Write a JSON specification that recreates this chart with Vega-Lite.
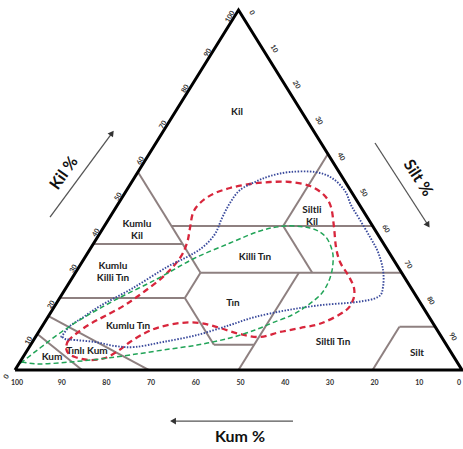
{
  "$schema": "https://vega.github.io/schema/vega-lite/v6.json",
  "width": 463,
  "height": 449,
  "autosize": {"type": "none"},
  "padding": 0,
  "background": "white",
  "config": {"view": {"stroke": null}, "text": {"font": "Lato"}},
  "datasets": {
    "seg": [
      {"x": 27.5, "c": 55, "x2": 41.5, "c2": 27},
      {"x": 17.5, "c": 35, "x2": 37.5, "c2": 35},
      {"x": 35, "c": 40, "x2": 80, "c2": 40},
      {"x": 60, "c": 40, "x2": 70, "c2": 60},
      {"x": 60, "c": 40, "x2": 66.5, "c2": 27},
      {"x": 41.5, "c": 27, "x2": 86.5, "c2": 27},
      {"x": 10, "c": 20, "x2": 38, "c2": 20},
      {"x": 38, "c": 20, "x2": 41.5, "c2": 27},
      {"x": 38, "c": 20, "x2": 44.5, "c2": 7},
      {"x": 44.5, "c": 7, "x2": 53.5, "c2": 7},
      {"x": 63.5, "c": 27, "x2": 50, "c2": 0},
      {"x": 80, "c": 0, "x2": 86, "c2": 12},
      {"x": 86, "c": 12, "x2": 94, "c2": 12},
      {"x": 7.5, "c": 15, "x2": 30, "c2": 0},
      {"x": 5, "c": 10, "x2": 15, "c2": 0}
    ],
    "frame": [
      {"i": 1, "x": 0, "c": 0},
      {"i": 2, "x": 100, "c": 0},
      {"i": 3, "x": 50, "c": 100},
      {"i": 4, "x": 0, "c": 0}
    ],
    "curves": [
      {"s": "A", "i": 1, "x": 11.41, "c": 6.11},
      {"s": "A", "i": 2, "x": 11.86, "c": 8.06},
      {"s": "A", "i": 3, "x": 13.87, "c": 10.28},
      {"s": "A", "i": 4, "x": 16.78, "c": 12.78},
      {"s": "A", "i": 5, "x": 20.13, "c": 15.0},
      {"s": "A", "i": 6, "x": 24.61, "c": 18.06},
      {"s": "A", "i": 7, "x": 29.08, "c": 21.94},
      {"s": "A", "i": 8, "x": 33.56, "c": 26.39},
      {"s": "A", "i": 9, "x": 36.91, "c": 31.11},
      {"s": "A", "i": 10, "x": 38.48, "c": 35.28},
      {"s": "A", "i": 11, "x": 39.15, "c": 39.44},
      {"s": "A", "i": 12, "x": 39.82, "c": 43.61},
      {"s": "A", "i": 13, "x": 41.39, "c": 46.39},
      {"s": "A", "i": 14, "x": 44.3, "c": 48.89},
      {"s": "A", "i": 15, "x": 48.1, "c": 50.56},
      {"s": "A", "i": 16, "x": 52.57, "c": 51.67},
      {"s": "A", "i": 17, "x": 57.05, "c": 52.22},
      {"s": "A", "i": 18, "x": 61.52, "c": 52.22},
      {"s": "A", "i": 19, "x": 66.0, "c": 51.11},
      {"s": "A", "i": 20, "x": 69.13, "c": 48.61},
      {"s": "A", "i": 21, "x": 70.69, "c": 45.28},
      {"s": "A", "i": 22, "x": 71.36, "c": 39.72},
      {"s": "A", "i": 23, "x": 71.81, "c": 34.17},
      {"s": "A", "i": 24, "x": 72.71, "c": 30.0},
      {"s": "A", "i": 25, "x": 74.5, "c": 26.39},
      {"s": "A", "i": 26, "x": 75.84, "c": 22.78},
      {"s": "A", "i": 27, "x": 75.62, "c": 19.44},
      {"s": "A", "i": 28, "x": 73.83, "c": 16.39},
      {"s": "A", "i": 29, "x": 68.68, "c": 13.06},
      {"s": "A", "i": 30, "x": 63.76, "c": 11.67},
      {"s": "A", "i": 31, "x": 59.28, "c": 10.56},
      {"s": "A", "i": 32, "x": 54.81, "c": 9.17},
      {"s": "A", "i": 33, "x": 50.34, "c": 10.0},
      {"s": "A", "i": 34, "x": 45.86, "c": 11.67},
      {"s": "A", "i": 35, "x": 41.39, "c": 13.06},
      {"s": "A", "i": 36, "x": 36.91, "c": 13.06},
      {"s": "A", "i": 37, "x": 32.44, "c": 11.94},
      {"s": "A", "i": 38, "x": 29.08, "c": 10.28},
      {"s": "A", "i": 39, "x": 25.73, "c": 7.78},
      {"s": "A", "i": 40, "x": 23.04, "c": 5.28},
      {"s": "A", "i": 41, "x": 20.13, "c": 3.33},
      {"s": "A", "i": 42, "x": 16.78, "c": 2.78},
      {"s": "A", "i": 43, "x": 13.42, "c": 3.61},
      {"s": "A", "i": 44, "x": 11.86, "c": 4.72},
      {"s": "A", "i": 45, "x": 11.41, "c": 6.11},
      {"s": "B", "i": 1, "x": 10.51, "c": 9.44},
      {"s": "B", "i": 2, "x": 12.3, "c": 12.22},
      {"s": "B", "i": 3, "x": 14.99, "c": 14.44},
      {"s": "B", "i": 4, "x": 19.02, "c": 17.78},
      {"s": "B", "i": 5, "x": 26.4, "c": 22.78},
      {"s": "B", "i": 6, "x": 34.0, "c": 28.61},
      {"s": "B", "i": 7, "x": 38.48, "c": 31.39},
      {"s": "B", "i": 8, "x": 42.06, "c": 34.17},
      {"s": "B", "i": 9, "x": 44.74, "c": 37.78},
      {"s": "B", "i": 10, "x": 46.31, "c": 42.22},
      {"s": "B", "i": 11, "x": 48.1, "c": 46.39},
      {"s": "B", "i": 12, "x": 50.34, "c": 50.0},
      {"s": "B", "i": 13, "x": 53.69, "c": 52.22},
      {"s": "B", "i": 14, "x": 57.05, "c": 53.89},
      {"s": "B", "i": 15, "x": 61.52, "c": 55.0},
      {"s": "B", "i": 16, "x": 67.11, "c": 55.0},
      {"s": "B", "i": 17, "x": 70.92, "c": 53.33},
      {"s": "B", "i": 18, "x": 73.83, "c": 49.72},
      {"s": "B", "i": 19, "x": 75.17, "c": 45.83},
      {"s": "B", "i": 20, "x": 77.18, "c": 41.67},
      {"s": "B", "i": 21, "x": 79.42, "c": 36.94},
      {"s": "B", "i": 22, "x": 81.21, "c": 32.78},
      {"s": "B", "i": 23, "x": 82.33, "c": 27.78},
      {"s": "B", "i": 24, "x": 82.33, "c": 23.06},
      {"s": "B", "i": 25, "x": 81.21, "c": 20.28},
      {"s": "B", "i": 26, "x": 76.51, "c": 18.89},
      {"s": "B", "i": 27, "x": 68.68, "c": 18.06},
      {"s": "B", "i": 28, "x": 61.07, "c": 16.67},
      {"s": "B", "i": 29, "x": 53.69, "c": 14.72},
      {"s": "B", "i": 30, "x": 48.1, "c": 12.5},
      {"s": "B", "i": 31, "x": 40.72, "c": 9.72},
      {"s": "B", "i": 32, "x": 33.11, "c": 7.78},
      {"s": "B", "i": 33, "x": 26.85, "c": 6.39},
      {"s": "B", "i": 34, "x": 22.37, "c": 6.67},
      {"s": "B", "i": 35, "x": 17.9, "c": 7.78},
      {"s": "B", "i": 36, "x": 13.42, "c": 8.33},
      {"s": "B", "i": 37, "x": 11.19, "c": 8.61},
      {"s": "B", "i": 38, "x": 10.51, "c": 9.44},
      {"s": "C", "i": 1, "x": 1.57, "c": 2.22},
      {"s": "C", "i": 2, "x": 5.59, "c": 6.11},
      {"s": "C", "i": 3, "x": 10.07, "c": 10.28},
      {"s": "C", "i": 4, "x": 15.21, "c": 14.44},
      {"s": "C", "i": 5, "x": 22.82, "c": 19.72},
      {"s": "C", "i": 6, "x": 31.77, "c": 25.28},
      {"s": "C", "i": 7, "x": 39.82, "c": 30.83},
      {"s": "C", "i": 8, "x": 48.1, "c": 35.28},
      {"s": "C", "i": 9, "x": 54.81, "c": 38.61},
      {"s": "C", "i": 10, "x": 60.4, "c": 40.0},
      {"s": "C", "i": 11, "x": 65.99, "c": 39.44},
      {"s": "C", "i": 12, "x": 69.35, "c": 37.22},
      {"s": "C", "i": 13, "x": 70.92, "c": 33.33},
      {"s": "C", "i": 14, "x": 71.14, "c": 29.72},
      {"s": "C", "i": 15, "x": 70.47, "c": 25.56},
      {"s": "C", "i": 16, "x": 68.68, "c": 21.39},
      {"s": "C", "i": 17, "x": 65.55, "c": 18.06},
      {"s": "C", "i": 18, "x": 61.97, "c": 15.28},
      {"s": "C", "i": 19, "x": 57.49, "c": 13.06},
      {"s": "C", "i": 20, "x": 53.69, "c": 11.11},
      {"s": "C", "i": 21, "x": 48.1, "c": 8.89},
      {"s": "C", "i": 22, "x": 40.72, "c": 6.94},
      {"s": "C", "i": 23, "x": 33.11, "c": 5.56},
      {"s": "C", "i": 24, "x": 25.73, "c": 4.17},
      {"s": "C", "i": 25, "x": 19.02, "c": 3.06},
      {"s": "C", "i": 26, "x": 12.3, "c": 2.22},
      {"s": "C", "i": 27, "x": 5.59, "c": 1.67},
      {"s": "C", "i": 28, "x": 1.57, "c": 2.22}
    ],
    "regions": [
      {"t": "Kil", "x": 49.66, "c": 71.67},
      {"t": "Kumlu\nKil", "x": 27.29, "c": 40.56},
      {"t": "Kumlu\nKilli Tın", "x": 21.92, "c": 28.89},
      {"t": "Siltli\nKil", "x": 66.44, "c": 44.44},
      {"t": "Killi Tın", "x": 53.69, "c": 31.39},
      {"t": "Tın", "x": 48.77, "c": 18.61},
      {"t": "Kumlu Tın", "x": 25.28, "c": 12.22},
      {"t": "Siltli Tın", "x": 71.14, "c": 7.78},
      {"t": "Silt", "x": 89.93, "c": 4.72},
      {"t": "Tınlı Kum", "x": 16.11, "c": 5.28},
      {"t": "Kum", "x": 8.28, "c": 3.61}
    ],
    "leftTicks": [
      {"t": "0", "x": 0, "c": 0}, {"t": "10", "x": 5, "c": 10}, {"t": "20", "x": 10, "c": 20},
      {"t": "30", "x": 15, "c": 30}, {"t": "40", "x": 20, "c": 40}, {"t": "50", "x": 25, "c": 50},
      {"t": "60", "x": 30, "c": 60}, {"t": "70", "x": 35, "c": 70}, {"t": "80", "x": 40, "c": 80},
      {"t": "90", "x": 45, "c": 90}, {"t": "100", "x": 50, "c": 100}
    ],
    "rightTicks": [
      {"t": "0", "x": 50, "c": 100}, {"t": "10", "x": 55, "c": 90}, {"t": "20", "x": 60, "c": 80},
      {"t": "30", "x": 65, "c": 70}, {"t": "40", "x": 70, "c": 60}, {"t": "50", "x": 75, "c": 50},
      {"t": "60", "x": 80, "c": 40}, {"t": "70", "x": 85, "c": 30}, {"t": "80", "x": 90, "c": 20},
      {"t": "90", "x": 95, "c": 10}
    ],
    "bottomTicks": [
      {"t": "100", "x": 0, "c": 0}, {"t": "90", "x": 10, "c": 0}, {"t": "80", "x": 20, "c": 0},
      {"t": "70", "x": 30, "c": 0}, {"t": "60", "x": 40, "c": 0}, {"t": "50", "x": 50, "c": 0},
      {"t": "40", "x": 60, "c": 0}, {"t": "30", "x": 70, "c": 0}, {"t": "20", "x": 80, "c": 0},
      {"t": "10", "x": 90, "c": 0}, {"t": "0", "x": 100, "c": 0}
    ],
    "arrows": [
      {"a": "Kil", "x": 7.83, "c": 42.5, "x2": 21.7, "c2": 65.83},
      {"a": "Silt", "x": 80.54, "c": 63.06, "x2": 92.39, "c2": 40.28},
      {"a": "Kum", "x": 62.19, "c": -14.17, "x2": 35.35, "c2": -14.17}
    ]
  },
  "encoding": {
    "x": {"field": "x", "type": "quantitative", "scale": {"domain": [-3.356, 100.224], "nice": false, "zero": false}, "axis": null},
    "y": {"field": "c", "type": "quantitative", "scale": {"domain": [-21.94, 102.78], "nice": false, "zero": false}, "axis": null}
  },
  "layer": [
    {
      "data": {"name": "seg"},
      "mark": {"type": "rule", "color": "#8e8080", "strokeWidth": 2},
      "encoding": {"x2": {"field": "x2"}, "y2": {"field": "c2"}}
    },
    {
      "data": {"name": "curves"},
      "mark": {"type": "line", "interpolate": "cardinal-closed", "fill": null},
      "encoding": {
        "order": {"field": "i", "type": "quantitative"},
        "detail": {"field": "s", "type": "nominal"},
        "color": {"field": "s", "type": "nominal", "scale": {"domain": ["A", "B", "C"], "range": ["#d8263c", "#3a4a9c", "#22a458"]}, "legend": null},
        "strokeDash": {"field": "s", "type": "nominal", "scale": {"domain": ["A", "B", "C"], "range": [[6, 4], [1.5, 1.5], [5, 3]]}, "legend": null},
        "strokeWidth": {"field": "s", "type": "nominal", "scale": {"domain": ["A", "B", "C"], "range": [2.3, 1.5, 2]}, "legend": null}
      }
    },
    {
      "data": {"name": "frame"},
      "mark": {"type": "line", "color": "black", "strokeWidth": 3, "strokeJoin": "miter"},
      "encoding": {"order": {"field": "i", "type": "quantitative"}}
    },
    {
      "data": {"name": "regions"},
      "mark": {"type": "text", "fontSize": 10, "fontWeight": "bold", "color": "#222", "lineBreak": "\n", "lineHeight": 12},
      "encoding": {"text": {"field": "t"}}
    },
    {
      "data": {"name": "leftTicks"},
      "mark": {"type": "text", "fontSize": 7, "fontWeight": "bold", "color": "#333", "angle": 300, "dx": -10, "dy": -4},
      "encoding": {"text": {"field": "t"}}
    },
    {
      "data": {"name": "rightTicks"},
      "mark": {"type": "text", "fontSize": 7, "fontWeight": "bold", "color": "#333", "angle": 60, "dx": 9, "dy": -10},
      "encoding": {"text": {"field": "t"}}
    },
    {
      "data": {"name": "bottomTicks"},
      "transform": [{"filter": "datum.x < 100"}],
      "mark": {"type": "text", "fontSize": 7, "fontWeight": "bold", "color": "#333", "dx": 2, "dy": 13},
      "encoding": {"text": {"field": "t"}}
    },
    {
      "data": {"name": "bottomTicks"},
      "transform": [{"filter": "datum.x >= 100"}],
      "mark": {"type": "text", "fontSize": 7, "fontWeight": "bold", "color": "#333", "dx": -3, "dy": 13},
      "encoding": {"text": {"field": "t"}}
    },
    {
      "data": {"name": "arrows"},
      "mark": {"type": "rule", "color": "#555", "strokeWidth": 1.3},
      "encoding": {"x2": {"field": "x2"}, "y2": {"field": "c2"}}
    },
    {
      "data": {"name": "arrows"},
      "transform": [{"filter": "datum.a == 'Kil'"}],
      "mark": {"type": "point", "shape": "triangle-up", "filled": true, "color": "#333", "size": 45, "angle": 36, "opacity": 1},
      "encoding": {"x": {"field": "x2", "type": "quantitative"}, "y": {"field": "c2", "type": "quantitative"}}
    },
    {
      "data": {"name": "arrows"},
      "transform": [{"filter": "datum.a == 'Silt'"}],
      "mark": {"type": "point", "shape": "triangle-up", "filled": true, "color": "#333", "size": 45, "angle": 147, "opacity": 1},
      "encoding": {"x": {"field": "x2", "type": "quantitative"}, "y": {"field": "c2", "type": "quantitative"}}
    },
    {
      "data": {"name": "arrows"},
      "transform": [{"filter": "datum.a == 'Kum'"}],
      "mark": {"type": "point", "shape": "triangle-up", "filled": true, "color": "#333", "size": 45, "angle": 270, "opacity": 1},
      "encoding": {"x": {"field": "x2", "type": "quantitative"}, "y": {"field": "c2", "type": "quantitative"}}
    },
    {
      "data": {"values": [{"t": "Kil %", "x": 10.96, "c": 54.72}]},
      "mark": {"type": "text", "fontSize": 16, "fontWeight": "bold", "color": "#111", "angle": 305},
      "encoding": {"text": {"field": "t"}}
    },
    {
      "data": {"values": [{"t": "Silt %", "x": 90.16, "c": 53.33}]},
      "mark": {"type": "text", "fontSize": 16, "fontWeight": "bold", "color": "#111", "angle": 57},
      "encoding": {"text": {"field": "t"}}
    },
    {
      "data": {"values": [{"t": "Kum %", "x": 50.34, "c": -18.61}]},
      "mark": {"type": "text", "fontSize": 16, "fontWeight": "bold", "color": "#111"},
      "encoding": {"text": {"field": "t"}}
    }
  ]
}
